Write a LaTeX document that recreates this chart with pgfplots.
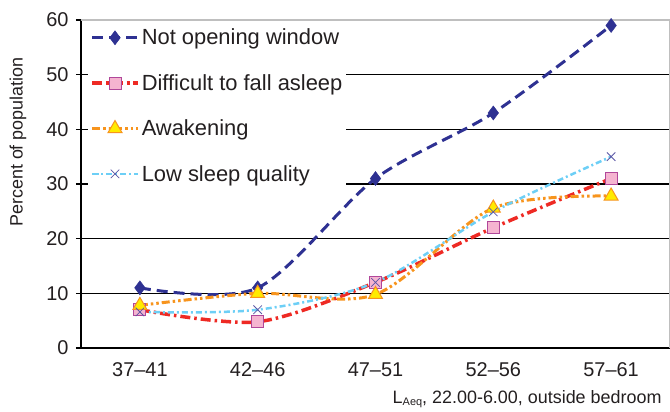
\documentclass[border=0pt]{standalone}
\usepackage{pgfplots}
\pgfplotsset{compat=1.18}
\usepackage{fontspec}
\setmainfont{Liberation Sans}

\definecolor{winblue}{HTML}{2E3192}
\definecolor{asleepred}{HTML}{EE2A24}
\definecolor{sqfill}{HTML}{F5B4D0}
\definecolor{sqedge}{HTML}{B0479A}
\definecolor{awakeorange}{HTML}{F7941D}
\definecolor{trifill}{HTML}{FFEB00}
\definecolor{lightcyan}{HTML}{6DCFF6}
\definecolor{crosspurple}{HTML}{5B57A6}
\definecolor{txt}{HTML}{231F20}

\begin{document}
\begin{tikzpicture}
\begin{axis}[
    scale only axis,
    width=589bp, height=328bp,
    xmin=-0.5, xmax=4.5,
    ymin=0, ymax=60,
    axis x line*=bottom,
    axis y line*=left,
    axis line style={black, line width=1.2bp},
    xtick={0,1,2,3,4},
    xticklabels={37--41,42--46,47--51,52--56,57--61},
    extra x ticks={0.5,1.5,2.5,3.5},
    extra x tick labels={},
    extra x tick style={major tick length=8bp, tick align=outside, tick style={black, line width=1.2bp}},
    x tick style={draw=none},
    ytick={0,10,...,60},
    y tick style={black, line width=1.2bp},
    tick align=center,
    major tick length=10bp,
    ymajorgrids,
    grid style={black, line width=1.3bp},
    /pgf/number format/assume math mode=true,
    ticklabel style={font=\fontsize{20}{24}\selectfont, text=txt},
    xticklabel style={yshift=-6bp},
    yticklabel style={xshift=-4bp},
    ylabel={Percent of population},
    ylabel style={at={(rel axis cs:-0.107,0.628)}, anchor=center, font=\fontsize{18}{22}\selectfont, text=txt},
    xlabel={L\raisebox{-1.5bp}{\fontsize{11}{12}\selectfont Aeq}, 22.00-6.00, outside bedroom},
    xlabel style={at={(rel axis cs:1,0)}, anchor=base east, xshift=-5bp, yshift=-56bp, font=\fontsize{18}{22}\selectfont, text=txt},
    legend cell align=left,
    legend style={at={(rel axis cs:0.012,0.985)}, anchor=north west, draw=none, fill=white,
        font=\fontsize{22}{26}\selectfont, text=txt, row sep=24bp, inner sep=2bp},
    legend image code/.code={
        \draw[mark repeat=2, mark phase=2] plot coordinates {(0bp,0bp) (23bp,0bp) (46bp,0bp)};
    },
]
\addplot[winblue, line width=3bp, dash pattern=on 11bp off 6bp, smooth, tension=0.5,
    mark=diamond*, mark size=7bp, mark options={solid, fill=winblue, draw=winblue, line width=0.5bp}]
    coordinates {(0,11) (1,11) (2,31) (3,43) (4,59)};
\addlegendentry{Not opening window}

\addplot[asleepred, line width=3.5bp, dash pattern=on 10bp off 4bp on 2.5bp off 4bp, smooth, tension=0.5,
    mark=square*, mark size=6bp, mark options={solid, fill=sqfill, draw=sqedge, line width=1bp}]
    coordinates {(0,7) (1,4.8) (2,12) (3,22) (4,31)};
\addlegendentry{Difficult to fall asleep}

\addplot[awakeorange, line width=3bp, dash pattern=on 8bp off 3bp on 2.5bp off 3bp on 2.5bp off 3bp, smooth, tension=0.5,
    mark=triangle*, mark size=8bp, mark options={solid, fill=trifill, draw=awakeorange, line width=1bp}]
    coordinates {(0,7.8) (1,10) (2,9.8) (3,25.6) (4,27.8)};
\addlegendentry{Awakening}

\addplot[lightcyan, line width=2.5bp, dash pattern=on 6bp off 3bp on 2bp off 3bp, smooth, tension=0.5,
    mark=x, mark size=6bp, mark options={solid, draw=crosspurple, line width=0.8bp}]
    coordinates {(0,6.6) (1,7) (2,12) (3,24.9) (4,35)};
\addlegendentry{Low sleep quality}

\draw[black!25, line width=1.3bp] (rel axis cs:0,1) -- (rel axis cs:1,1) -- (rel axis cs:1,0);
\end{axis}
\path (current axis.south west) ++(-81bp,-64bp) coordinate (bl);
\path (current axis.north east) ++(0bp,20bp) coordinate (tr);
\pgfresetboundingbox
\path (bl) rectangle (tr);
\end{tikzpicture}
\end{document}
